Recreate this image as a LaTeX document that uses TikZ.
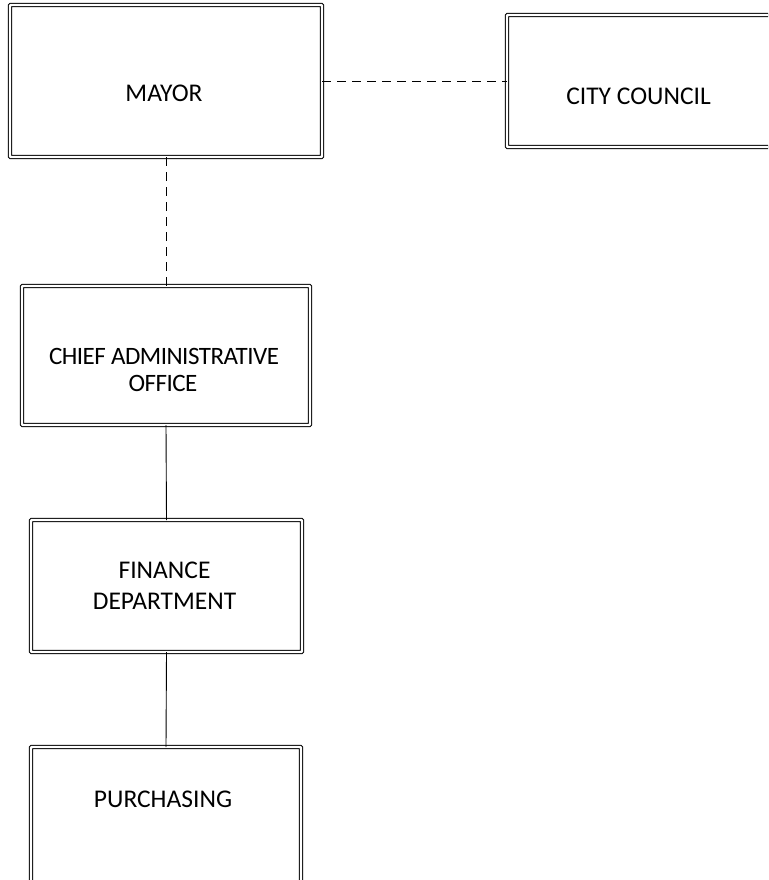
\documentclass[tikz,border=0pt]{standalone}
\usepackage{fontspec}
\setmainfont{Carlito}
\newfontfamily\tightfont[LetterSpace=-2]{Carlito}
\begin{document}
\begin{tikzpicture}[x=1pt,y=-1pt,
  orgbox/.style={draw=black, line width=1pt, double=white, double distance=2.4pt,
    rounded corners=0.8pt, inner sep=0pt, outer sep=0pt, fill=none},
  lbl/.style={inner sep=0pt, font=\fontsize{25.5}{30}\selectfont, anchor=base},
  link/.style={draw=black, line width=0.9pt},
  dashlink/.style={link, dash pattern=on 9pt off 6pt}]
\useasboundingbox (0,0) rectangle (768,880);
\begin{scope}
\clip (0,0) rectangle (768,880);
% boxes
\node[orgbox, minimum width=312pt, minimum height=152pt] (mayor) at (166,81) {};
\node[orgbox, minimum width=300pt, minimum height=132pt] (council) at (657,81) {};
\node[orgbox, minimum width=288pt, minimum height=139pt] (cao) at (166,355.5) {};
\node[orgbox, minimum width=271pt, minimum height=132pt] (finance) at (166.5,586) {};
\node[orgbox, minimum width=270pt, minimum height=150pt] (purchasing) at (166,822) {};
% labels
\node[lbl] (mayorTxt) at (164,101.7) {MAYOR};
\node[lbl] (councilTxt) at (638.5,104.3) {CITY COUNCIL};
\node[lbl, font=\fontsize{25}{30}\tightfont] (caoTxtA) at (164,364.3) {CHIEF ADMINISTRATIVE};
\node[lbl, font=\fontsize{25}{30}\tightfont] (caoTxtB) at (163,391) {OFFICE};
\node[lbl] (financeTxtA) at (164.5,578.3) {FINANCE};
\node[lbl] (financeTxtB) at (164.5,609.3) {DEPARTMENT};
\node[lbl] (purchasingTxt) at (163,807.3) {PURCHASING};
% connectors
\draw[dashlink] (mayor.east) -- (council.west);
\draw[dashlink] (mayor.south) -- (cao.north);
\draw[link] (cao.south) -- (finance.north);
\draw[link] (finance.south) -- (purchasing.north);
\end{scope}
\end{tikzpicture}
\end{document}
